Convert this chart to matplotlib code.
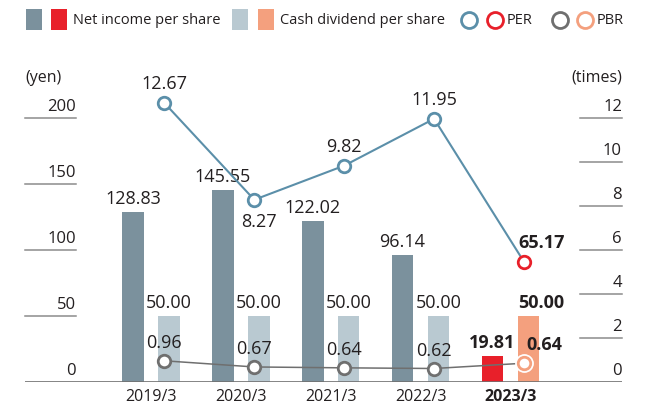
import matplotlib.pyplot as plt
from matplotlib.patches import Rectangle
from matplotlib.lines import Line2D
import numpy as np

plt.rcParams['font.family'] = ['Open Sans', 'DejaVu Sans']

# data
years = ['2019/3', '2020/3', '2021/3', '2022/3', '2023/3']
net_income = [128.83, 145.55, 122.02, 96.14, 19.81]
dividend = [50.00, 50.00, 50.00, 50.00, 50.00]
per = [12.67, 8.27, 9.82, 11.95, 5.45]
per_labels = ['12.67', '8.27', '9.82', '11.95', '65.17']
pbr = [0.95, 0.67, 0.63, 0.60, 0.84]
pbr_labels = ['0.96', '0.67', '0.64', '0.62', '0.64']
yen_ticks = [0, 50, 100, 150, 200]
times_ticks = [0, 2, 4, 6, 8, 10, 12]

# colours
c_net = '#7b919d'
c_net_hl = '#e8202a'
c_div = '#b9c9d1'
c_div_hl = '#f4a07e'
c_per = '#5b8fa9'
c_pbr = '#6f6f6f'
c_tick = '#8c8c8c'
c_text = '#231f20'

W, H = 646, 409
fig = plt.figure(figsize=(W / 100, H / 100), dpi=100)


def px(x, y):
    # figure pixel (from top-left) -> figure fraction
    return x / W, 1 - y / H


# axes box in pixels: x 25..622, baseline at y 381.7, top at y 40
base_y, top_y, left_x, right_x = 381.7, 40, 25, 622
ax = fig.add_axes([left_x / W, (H - base_y) / H, (right_x - left_x) / W, (base_y - top_y) / H])
yen_per_px = 200 / 264.0
times_per_px = 12 / 264.0
ax.set_ylim(0, (base_y - top_y) * yen_per_px)
step = 89.9
ax.set_xlim((left_x - 150.9) / step, (right_x - 150.9) / step)
ax.axis('off')
ax2 = ax.twinx()
ax2.set_ylim(0, (base_y - top_y) * times_per_px)
ax2.set_xlim(ax.get_xlim())
ax2.axis('off')

x = np.arange(len(years))
bw = 0.24
net_colors = [c_net] * 4 + [c_net_hl]
div_colors = [c_div] * 4 + [c_div_hl]
ax.bar(x - 0.2, net_income, width=bw, color=net_colors, zorder=2)
ax.bar(x + 0.2, dividend, width=bw, color=div_colors, zorder=2)

# baseline and tick marks
ax.axhline(0, color='#707070', lw=1.2, zorder=3)
ytr = ax.get_yaxis_transform()
for v in yen_ticks:
    if v > 0:
        ax.plot([0, 51 / 597], [v, v], transform=ytr, color=c_tick, lw=1.1, clip_on=False)
    ax.annotate(f'{v}', (51 / 597, v), xycoords=ytr, xytext=(0, 5), textcoords='offset points',
                ha='right', va='baseline', fontsize=12, color=c_text)
ytr2 = ax2.get_yaxis_transform()
for v in times_ticks:
    if v > 0:
        ax2.plot([555 / 597, 1], [v, v], transform=ytr2, color=c_tick, lw=1.1, clip_on=False)
    ax2.annotate(f'{v}', (1, v), xycoords=ytr2, xytext=(0, 5), textcoords='offset points',
                 ha='right', va='baseline', fontsize=12, color=c_text)
fig.text(*px(25, 78), '(yen)', ha='left', va='center', fontsize=11.5, color=c_text)
fig.text(*px(622, 78), '(times)', ha='right', va='center', fontsize=11.5, color=c_text)

# category labels
for i, yr in enumerate(years):
    ax.annotate(yr, (x[i], 0), xytext=(0, -11), textcoords='offset points', ha='center',
                va='center', fontsize=11.5, color=c_text,
                fontweight='bold' if i == 4 else 'normal')

# PER line
mx = x + 0.15
ax2.plot(mx, per, color=c_per, lw=1.5, zorder=4)
per_edges = [c_per] * 4 + [c_net_hl]
for i in range(len(years)):
    ax2.plot(mx[i], per[i], 'o', ms=9, mfc='white', mec=per_edges[i], mew=2, zorder=5)

# PBR line
ax2.plot(mx, pbr, color=c_pbr, lw=1.1, zorder=4)
ax2.plot(mx[4], pbr[4], 'o', ms=12.5, mfc='white', mec='white', zorder=5)
pbr_edges = [c_pbr] * 4 + [c_div_hl]
for i in range(len(years)):
    ax2.plot(mx[i], pbr[i], 'o', ms=9, mfc='white', mec=pbr_edges[i], mew=2, zorder=6)

# value labels
fs = 13
for i in range(len(years)):
    wt = 'bold' if i == 4 else 'normal'
    ax.annotate(f'{net_income[i]:.2f}', (x[i] - 0.2, net_income[i]), xytext=(0, 5.5),
                textcoords='offset points', ha='center', va='baseline', fontsize=fs,
                color=c_text, fontweight=wt, zorder=7)
    dx = 9.5 if i == 4 else 0
    ax.annotate(f'{dividend[i]:.2f}', (x[i] + 0.2, dividend[i]), xytext=(dx, 5.4),
                textcoords='offset points', ha='center', va='baseline', fontsize=fs,
                color=c_text, fontweight=wt, zorder=7)
    if i == 1:
        off = (3.5, -19.5)
    elif i == 4:
        off = (12.5, 9.7)
    else:
        off = (0, 9.7)
    ax2.annotate(per_labels[i], (mx[i], per[i]), xytext=off, textcoords='offset points',
                 ha='center', va='baseline', fontsize=fs, color=c_text, fontweight=wt, zorder=7)
    off = (14.5, 9.5) if i == 4 else (0, 9.2)
    ax2.annotate(pbr_labels[i], (mx[i], pbr[i]), xytext=off, textcoords='offset points',
                 ha='center', va='baseline', fontsize=fs, color=c_text, fontweight=wt, zorder=7)

# legend drawn in figure pixels
def square(x0, color):
    fig.patches.append(Rectangle(px(x0, 30), 16 / W, 21 / H, transform=fig.transFigure,
                                 facecolor=color, edgecolor='none'))


def circle(xc, color):
    fig.lines.append(Line2D([xc / W], [1 - 20 / H], transform=fig.transFigure, marker='o',
                            ms=11.5, mfc='white', mec=color, mew=2))


square(26, c_net)
square(50.5, c_net_hl)
fig.text(*px(73, 20), 'Net income per share', ha='left', va='center', fontsize=10.5, color=c_text)
square(232, c_div)
square(258, c_div_hl)
fig.text(*px(280, 20), 'Cash dividend per share', ha='left', va='center', fontsize=10.5, color=c_text)
circle(469.5, c_per)
circle(494.5, c_net_hl)
fig.text(*px(507, 20), 'PER', ha='left', va='center', fontsize=10.5, color=c_text)
circle(559.5, c_pbr)
circle(584.5, c_div_hl)
fig.text(*px(597, 20), 'PBR', ha='left', va='center', fontsize=10.5, color=c_text)

fig.savefig('out.png', dpi=100)
